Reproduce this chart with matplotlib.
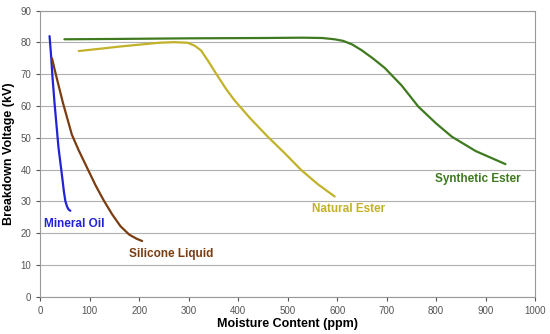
import matplotlib.pyplot as plt

plt.rcParams['font.family'] = ['Liberation Sans', 'DejaVu Sans']

# moisture (ppm) / breakdown voltage (kV)
mineral_x = [19, 22, 25, 29, 33, 37, 41, 45, 48, 51, 54, 57, 61]
mineral_y = [82, 76, 69, 61, 54, 47, 42, 37, 33, 30, 28.5, 27.5, 27]

silicone_x = [24, 30, 38, 46, 55, 64, 78, 95, 112, 128, 145, 162, 180, 195, 206]
silicone_y = [75, 71, 66, 61, 56, 51, 46, 40.5, 35, 30.4, 26, 22.2, 19.5, 18.2, 17.5]

natural_x = [78, 120, 160, 200, 240, 270, 298, 312, 325, 340, 355, 375, 392,
             425, 460, 495, 527, 560, 595]
natural_y = [77.3, 78.0, 78.7, 79.3, 79.9, 80.1, 79.9, 79.0, 77.5, 74.0, 70.3,
             65.5, 61.9, 56.0, 50.3, 45.0, 39.9, 35.5, 31.5]

synthetic_x = [49, 150, 300, 450, 530, 570, 595, 612, 630, 650, 672, 696, 730,
               764, 800, 832, 880, 940]
synthetic_y = [81.0, 81.1, 81.3, 81.4, 81.5, 81.4, 81.0, 80.5, 79.4, 77.5, 75.0,
               72.0, 66.5, 59.8, 54.5, 50.3, 45.8, 41.7]

x_ticks = list(range(0, 1001, 100))
y_ticks = list(range(0, 91, 10))

fig = plt.figure(figsize=(5.5, 3.34), dpi=100)
ax = fig.add_axes([0.073, 0.112, 0.900, 0.856])

ax.plot(mineral_x, mineral_y, color='#2323d6', lw=1.6, solid_capstyle='round')
ax.plot(silicone_x, silicone_y, color='#7a3d12', lw=1.6, solid_capstyle='round')
ax.plot(natural_x, natural_y, color='#c2b22a', lw=1.6, solid_capstyle='round')
ax.plot(synthetic_x, synthetic_y, color='#3f7a1f', lw=1.6, solid_capstyle='round')

ax.text(7, 23, 'Mineral Oil', color='#2323d6', fontsize=8.5, fontweight='bold',
        va='center', ha='left')
ax.text(180, 13.4, 'Silicone Liquid', color='#7a3d12', fontsize=8.5,
        fontweight='bold', va='center', ha='left')
ax.text(623, 27.5, 'Natural Ester', color='#c2b22a', fontsize=8.5,
        fontweight='bold', va='center', ha='center')
ax.text(884, 36.9, 'Synthetic Ester', color='#3f7a1f', fontsize=8.5,
        fontweight='bold', va='center', ha='center')

ax.set_xlim(0, 1000)
ax.set_ylim(0, 90)
ax.set_xticks(x_ticks)
ax.set_yticks(y_ticks)
ax.tick_params(labelsize=7, colors='#555555', length=3, width=0.8)
ax.grid(axis='y', color='#b0b0b0', lw=0.8)
ax.set_axisbelow(True)
for s in ax.spines.values():
    s.set_color('#999999')
    s.set_linewidth(0.8)

ax.set_xlabel('Moisture Content (ppm)', fontsize=9, fontweight='bold', labelpad=2)
ax.set_ylabel('Breakdown Voltage (kV)', fontsize=9, fontweight='bold', labelpad=4)

fig.savefig('out.png', dpi=100)
